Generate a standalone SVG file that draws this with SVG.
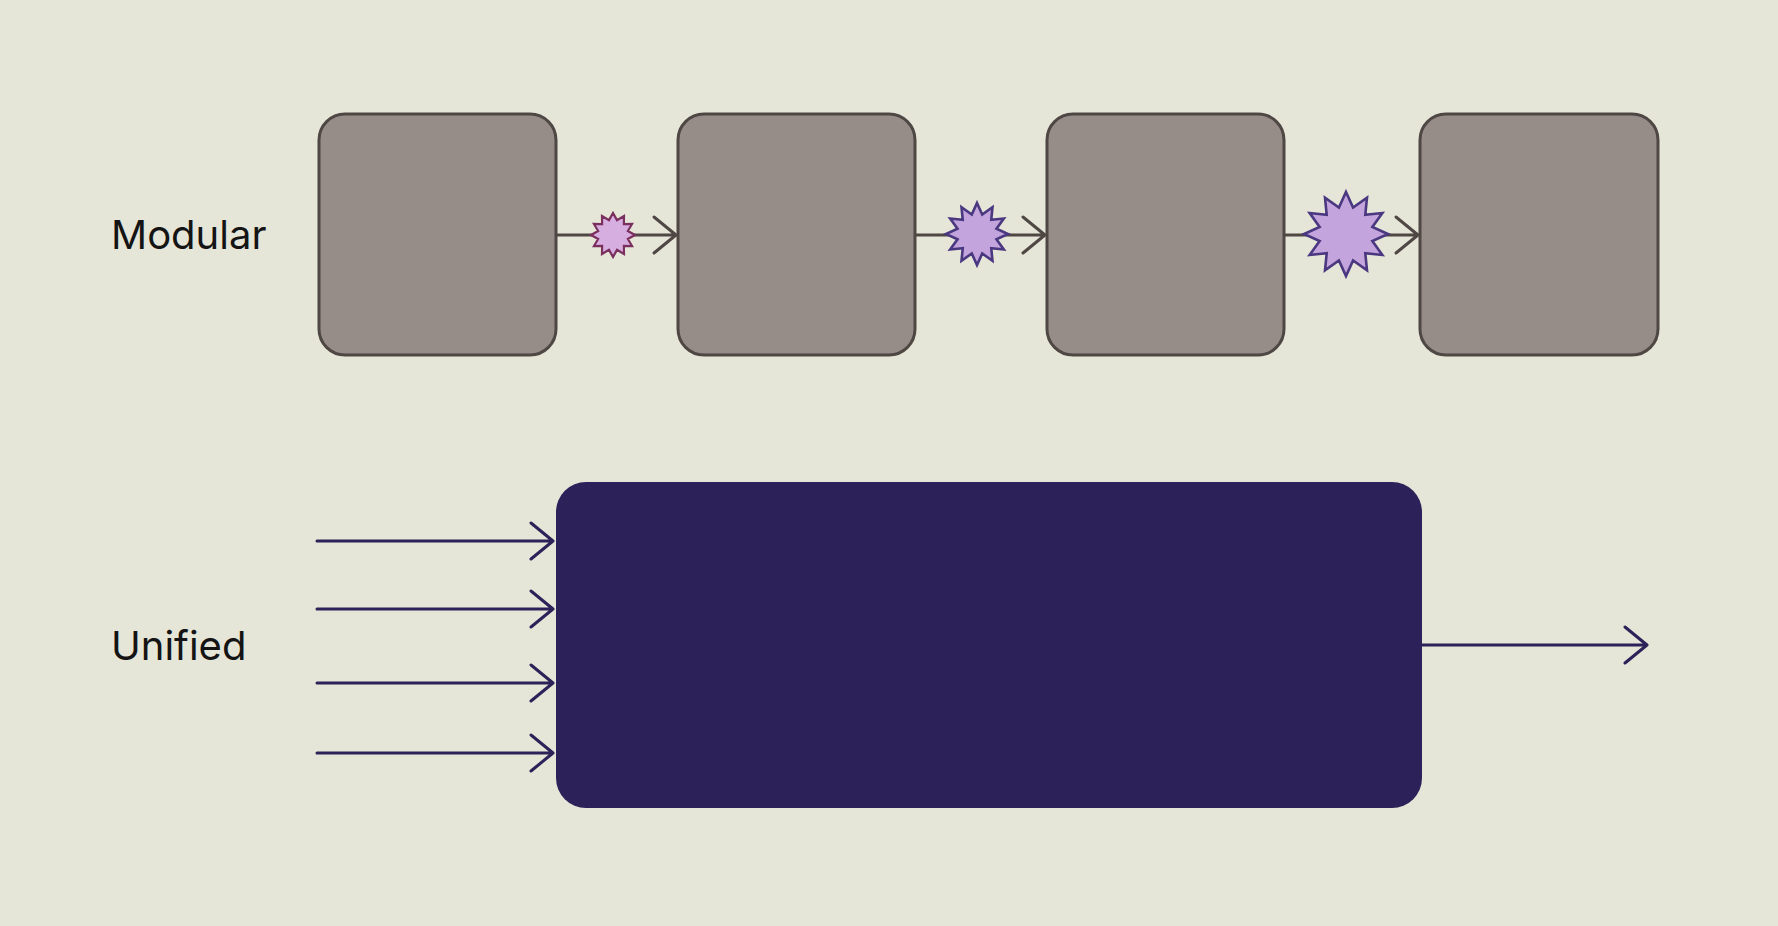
<svg xmlns="http://www.w3.org/2000/svg" width="1778" height="926" viewBox="0 0 1778 926">
  <style>
    .bg { fill: #e6e6d8; }
    .mod { fill: #978d88; stroke: #4e4744; stroke-width: 3; }
    .uni { fill: #2c2158; }
    .lbl { font-family: Inter, "Liberation Sans", sans-serif; font-size: 40px; fill: #141414; }
    .cm { fill: none; stroke: #4e4744; stroke-width: 3; stroke-linecap: round; stroke-linejoin: round; }
    .cu { fill: none; stroke: #2c2158; stroke-width: 3; stroke-linecap: round; stroke-linejoin: round; }
    .s1 { fill: #d6aee0; stroke: #7a2f5e; stroke-width: 2.2; }
    .s2 { fill: #c4a4dc; stroke: #4a3880; stroke-width: 2.6; }
  </style>
  <defs>
    <polygon id="star12" vector-effect="non-scaling-stroke" points="0,-10 1.812,-6.761 5,-8.66 4.95,-4.95 8.66,-5 6.761,-1.812 10,0 6.761,1.812 8.66,5 4.95,4.95 5,8.66 1.812,6.761 0,10 -1.812,6.761 -5,8.66 -4.95,4.95 -8.66,5 -6.761,1.812 -10,0 -6.761,-1.812 -8.66,-5 -4.95,-4.95 -5,-8.66 -1.812,-6.761"/>
    <polygon id="star12d" vector-effect="non-scaling-stroke" points="0,-10 1.682,-6.279 5,-8.66 4.596,-4.596 8.66,-5 6.279,-1.682 10,0 6.279,1.682 8.66,5 4.596,4.596 5,8.66 1.682,6.279 0,10 -1.682,6.279 -5,8.66 -4.596,4.596 -8.66,5 -6.279,1.682 -10,0 -6.279,-1.682 -8.66,-5 -4.596,-4.596 -5,-8.66 -1.682,-6.279"/>
  </defs>
  <rect class="bg" x="0" y="0" width="1778" height="926"/>

  <text class="lbl" x="111" y="249">Modular</text>
  <text class="lbl" x="111" y="660">Unified</text>

  <g id="connectors">
    <path class="cm" d="M557,235 H676 M654,217 L676,235 L654,253"/>
    <path class="cm" d="M915,235 H1045 M1023,217 L1045,235 L1023,253"/>
    <path class="cm" d="M1284,235 H1418 M1396,217 L1418,235 L1396,253"/>
    <path class="cu" d="M317,541 H553 M531,523 L553,541 L531,559"/>
    <path class="cu" d="M317,609 H553 M531,591 L553,609 L531,627"/>
    <path class="cu" d="M317,683 H553 M531,665 L553,683 L531,701"/>
    <path class="cu" d="M317,753 H553 M531,735 L553,753 L531,771"/>
    <path class="cu" d="M1422,645 H1647 M1625,627 L1647,645 L1625,663"/>
  </g>

  <g id="burst1"><use href="#star12" class="s1" transform="translate(613,235) scale(2.2)"/></g>
  <g id="burst2"><use href="#star12d" class="s2" transform="translate(977,234) scale(3.1)"/></g>
  <g id="burst3"><use href="#star12d" class="s2" transform="translate(1346,234) scale(4.2)"/></g>

  <g id="module1"><rect class="mod" x="319" y="114" width="237" height="241" rx="26"/></g>
  <g id="module2"><rect class="mod" x="678" y="114" width="237" height="241" rx="26"/></g>
  <g id="module3"><rect class="mod" x="1047" y="114" width="237" height="241" rx="26"/></g>
  <g id="module4"><rect class="mod" x="1420" y="114" width="238" height="241" rx="26"/></g>

  <g id="unified"><rect class="uni" x="556" y="482" width="866" height="326" rx="30"/></g>
</svg>
